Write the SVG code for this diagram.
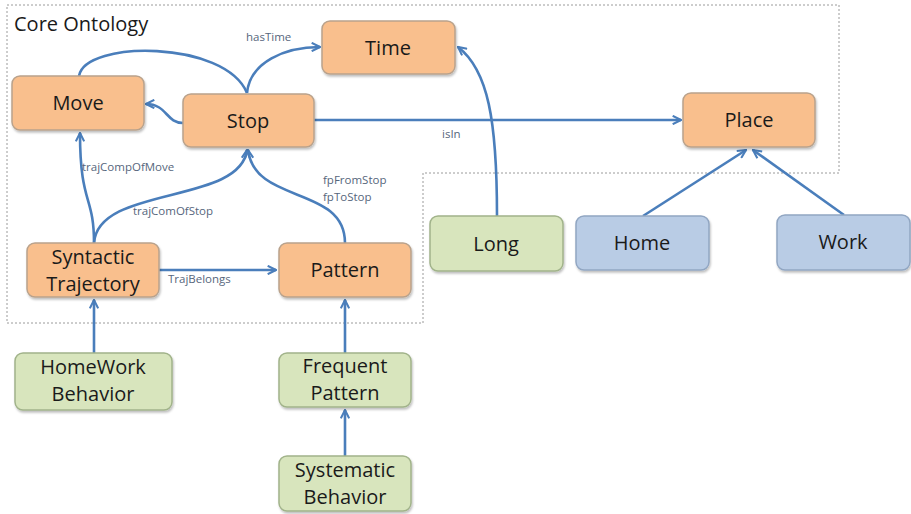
<svg xmlns="http://www.w3.org/2000/svg" width="911" height="514" viewBox="0 0 911 514">
<style>
.node rect{stroke-width:1.5}
.o rect{fill:#f9bf8d;stroke:#b9a28c}
.g rect{fill:#d8e5bd;stroke:#a1b38a}
.b rect{fill:#b9cce5;stroke:#91a6c2}
.node text{font-family:"Open Sans",sans-serif;font-size:20px;fill:#1a1a1a;text-anchor:middle}
.lbl{font-family:"Open Sans",sans-serif;font-size:11.5px;fill:#56667c}
.e{fill:none;stroke:#4a7ebb;stroke-width:2.6}
.ea{marker-end:url(#ah)}
</style>
<defs>
<marker id="ah" viewBox="0 0 10 10" refX="9" refY="5" markerWidth="4" markerHeight="4" orient="auto" markerUnits="strokeWidth">
<path d="M1,1 L9,5 L1,9" fill="none" stroke="#4a7ebb" stroke-width="2"/>
</marker>
<filter id="sh" x="-10%" y="-10%" width="125%" height="130%">
<feDropShadow dx="1" dy="2" stdDeviation="1.2" flood-color="#000" flood-opacity="0.25"/>
</filter>
</defs>
<rect width="911" height="514" fill="#fff"/>
<path d="M7,5 H839 V173 H423 V323 H7 Z" fill="none" stroke="#9a9a9a" stroke-width="1" stroke-dasharray="2,2"/>
<text x="14" y="31" font-family="Open Sans, sans-serif" font-size="20" fill="#1a1a1a">Core Ontology</text>
<g id="connectors">
<path class="e ea" d="M183,123 C166,123 167,104 146,104"/>
<path class="e" d="M79,76 C85,40 225,40 247,93"/>
<path class="e ea" d="M247,93 C250,62 285,47 320,47"/>
<path class="e ea" d="M314,120 H681"/>
<path class="e ea" d="M497,216 C497,120 488,70 458,47"/>
<path class="e ea" d="M643,216 L746,150"/>
<path class="e ea" d="M844,215 L753,150"/>
<path class="e ea" d="M94,243 C94,195 80,205 80,133"/>
<path class="e ea" d="M94,243 C98,185 240,205 247,150"/>
<path class="e ea" d="M345,243 C345,185 255,205 248,150"/>
<path class="e ea" d="M159,270 H276"/>
<path class="e ea" d="M94,353 V300"/>
<path class="e ea" d="M345,353 V300"/>
<path class="e ea" d="M345,456 V410"/>
<text class="lbl" x="246" y="41">hasTime</text>
<text class="lbl" x="442" y="138">isIn</text>
<text class="lbl" x="82" y="171">trajCompOfMove</text>
<text class="lbl" x="133" y="215">trajComOfStop</text>
<text class="lbl" x="323" y="184">fpFromStop</text>
<text class="lbl" x="323" y="201">fpToStop</text>
<text class="lbl" x="168" y="283">TrajBelongs</text>
</g>
<g id="move" class="node o"><rect x="12" y="76" width="132" height="54" rx="8" filter="url(#sh)"/><text x="78" y="110">Move</text></g>
<g id="stop" class="node o"><rect x="183" y="94" width="131" height="53" rx="8" filter="url(#sh)"/><text x="248" y="128">Stop</text></g>
<g id="time" class="node o"><rect x="322" y="21" width="133" height="53" rx="8" filter="url(#sh)"/><text x="388" y="55">Time</text></g>
<g id="place" class="node o"><rect x="683" y="93" width="132" height="54" rx="8" filter="url(#sh)"/><text x="749" y="127">Place</text></g>
<g id="long" class="node g"><rect x="430" y="216" width="133" height="55" rx="8" filter="url(#sh)"/><text x="496" y="251">Long</text></g>
<g id="home" class="node b"><rect x="576" y="216" width="133" height="54" rx="8" filter="url(#sh)"/><text x="642" y="250">Home</text></g>
<g id="work" class="node b"><rect x="777" y="215" width="133" height="55" rx="8" filter="url(#sh)"/><text x="843" y="249">Work</text></g>
<g id="syntactic" class="node o"><rect x="27" y="243" width="132" height="54" rx="8" filter="url(#sh)"/><text x="93" y="264">Syntactic</text><text x="93" y="291">Trajectory</text></g>
<g id="pattern" class="node o"><rect x="279" y="243" width="132" height="54" rx="8" filter="url(#sh)"/><text x="345" y="277">Pattern</text></g>
<g id="homework" class="node g"><rect x="15" y="353" width="157" height="57" rx="8" filter="url(#sh)"/><text x="93" y="374">HomeWork</text><text x="93" y="401">Behavior</text></g>
<g id="frequent" class="node g"><rect x="279" y="353" width="132" height="54" rx="8" filter="url(#sh)"/><text x="345" y="373">Frequent</text><text x="345" y="400">Pattern</text></g>
<g id="systematic" class="node g"><rect x="279" y="456" width="132" height="55" rx="8" filter="url(#sh)"/><text x="345" y="477">Systematic</text><text x="345" y="504">Behavior</text></g>
</svg>
